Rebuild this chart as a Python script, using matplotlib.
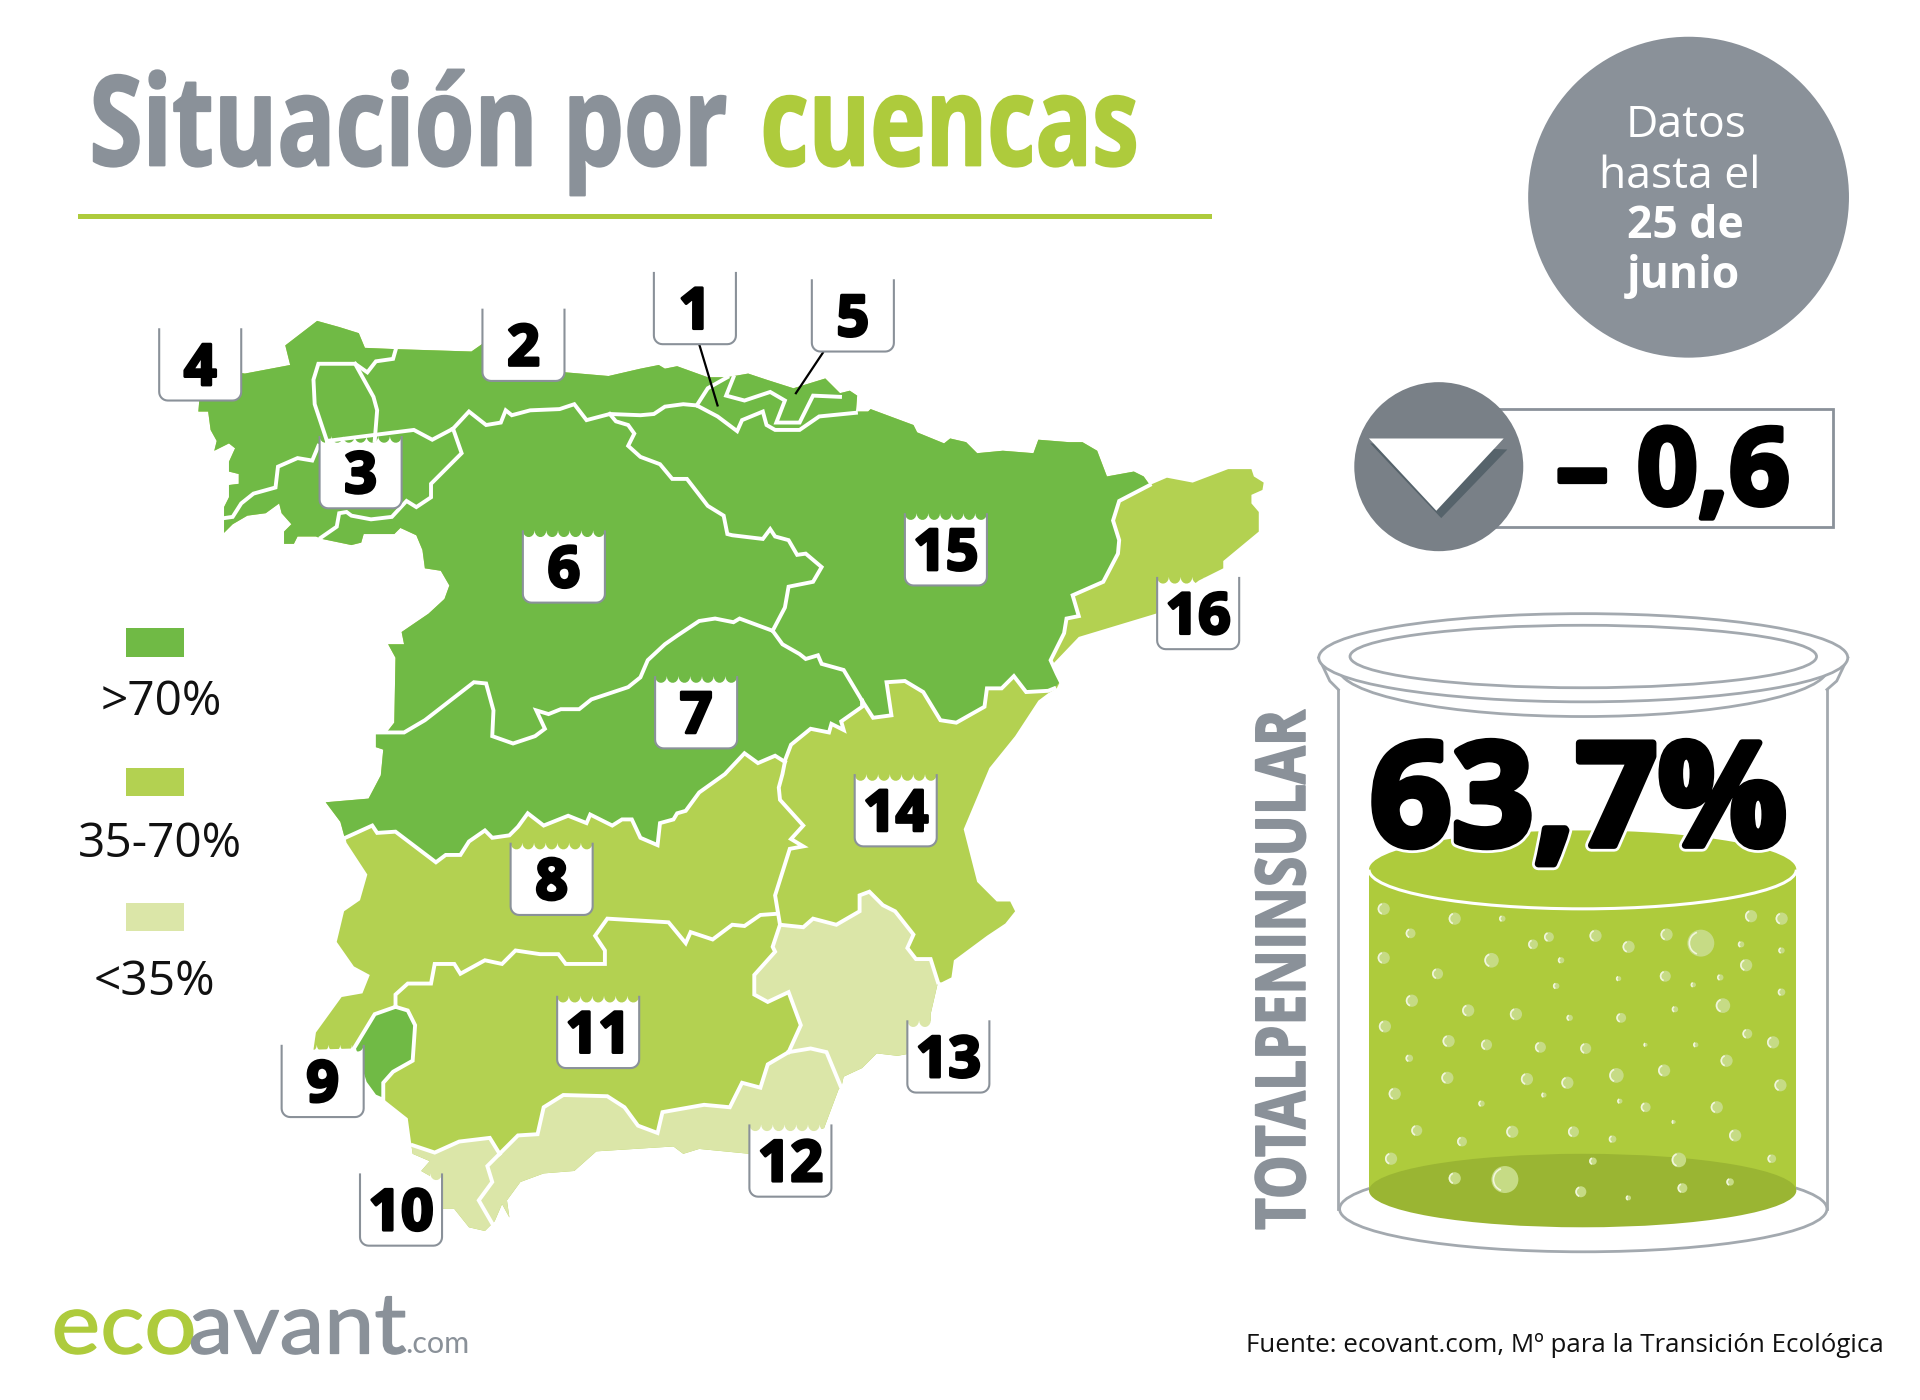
import numpy as np
import matplotlib
matplotlib.use('Agg')
import matplotlib.pyplot as plt
import matplotlib.patheffects as pe
from matplotlib import font_manager
from matplotlib.patches import Polygon, Circle, Ellipse, Arc, Rectangle
from matplotlib.text import Text
from matplotlib.transforms import Affine2D

# colours
GREEN_HIGH = '#70BA45'
GREEN_MID = '#B3D151'
GREEN_LOW = '#DBE6A8'
LIME = '#AECB3C'
GREY = '#8A9199'
DARK_GREY = '#798087'

# legend
legendLabels = ['>70%', '35-70%', '<35%']
legendColors = [GREEN_HIGH, GREEN_MID, GREEN_LOW]
legendBoxY = [513, 627, 737]
legendTextX = [132, 131, 126]
legendTextY = [573, 689, 802]

# numbered basin labels: number, left, top
boxNumbers = ['1', '2', '3', '4', '5', '6', '7', '8', '9', '10', '11', '12', '13', '14', '15', '16']
boxLeft = [534, 394, 261, 130, 663, 427, 535, 417, 230, 294, 455, 612, 741, 698, 739, 945]
boxTop = [222, 252, 356, 268, 228, 433, 552, 688, 853, 958, 813, 918, 833, 632, 419, 471]

# coast, clockwise from the Tajo mouth to the Guadiana mouth
coastNorth = [(282, 684), (281, 682), (278, 671), (266, 655), (301, 652), (311, 633), (313, 612), (307, 610),
              (307, 598), (315, 599), (322, 590), (323, 537), (317, 526), (330, 526), (328, 516), (350, 501),
              (363, 489), (367, 478), (360, 466), (347, 464), (345, 449), (340, 437), (327, 431), (322, 436),
              (297, 436), (295, 443), (287, 445), (263, 440), (258, 438), (243, 438), (240, 444), (232, 444),
              (232, 434), (238, 428), (230, 419), (228, 411), (217, 419), (202, 421), (190, 428), (183, 435),
              (183, 414), (187, 406), (187, 396), (195, 395), (195, 387), (187, 385), (187, 377), (192, 366),
              (187, 362), (175, 368), (177, 360), (172, 351), (170, 336), (162, 336), (165, 300), (200, 305),
              (237, 298), (233, 282), (259, 262), (277, 267), (293, 272), (298, 284), (322, 285), (385, 287),
              (395, 280), (462, 304), (497, 307), (523, 301), (538, 298), (543, 301), (553, 299), (578, 308),
              (594, 308), (611, 305), (626, 310), (648, 317), (674, 309), (686, 321), (694, 319), (700, 323),
              (699, 336), (709, 336), (711, 334), (746, 347), (749, 353), (771, 362), (776, 358), (789, 361),
              (798, 370), (819, 368), (844, 370), (848, 359), (873, 361), (884, 361), (896, 368), (904, 389),
              (926, 385), (934, 389), (939, 396)]
coastCatalonia = [(953, 390), (974, 394), (1003, 383), (1022, 383), (1024, 389), (1032, 394), (1031, 400),
                  (1022, 404), (1022, 411), (1028, 418), (1028, 434), (999, 458), (999, 464), (979, 474),
                  (944, 501), (881, 520), (859, 543), (866, 556)]
coastLevante = [(863, 562), (856, 566), (848, 572), (829, 601), (808, 627), (787, 677), (798, 720), (814, 736),
                (825, 736), (829, 744), (821, 754), (806, 764), (779, 784), (777, 798), (769, 802), (766, 802)]
coastSegura = [(760, 828), (760, 857), (733, 862), (716, 860), (704, 872), (689, 879), (687, 888)]
coastSouth = [(685, 889), (673, 921), (612, 942), (571, 938), (558, 942), (550, 936), (487, 940), (469, 956),
              (444, 958), (425, 965), (414, 980), (416, 994), (410, 983), (404, 997), (396, 1005), (383, 1002),
              (371, 987), (362, 987), (351, 960), (344, 956), (351, 948), (337, 942), (336, 935)]
coastAtlantic = [(333, 913), (314, 898), (306, 895), (298, 884), (289, 856), (256, 857), (258, 843), (279, 814),
                 (296, 811), (302, 796), (289, 789), (275, 769), (281, 744), (294, 735), (300, 714), (283, 688)]

# borders between basins
ebroCatalonia = [(939, 396), (914, 409), (909, 425), (914, 441), (913, 452), (901, 475), (876, 486), (881, 503),
                 (871, 505), (869, 517), (858, 539), (863, 550), (866, 556)]
ebroJucar = [(861, 562), (856, 564), (838, 565), (828, 552), (818, 562), (806, 562), (804, 577), (781, 590),
             (768, 588), (754, 565), (739, 556), (724, 557), (728, 584), (713, 586), (704, 572)]
tajoJucar = [(704, 572), (704, 577), (687, 589), (689, 596), (679, 591), (677, 598), (662, 595), (646, 608),
             (641, 621)]
tajoGuadiana = [(282, 684), (304, 674), (308, 680), (323, 679), (356, 704), (364, 698), (376, 698), (383, 687),
                (396, 678), (402, 684), (416, 682), (423, 675), (431, 664), (444, 674), (464, 666), (479, 672),
                (482, 665), (500, 674), (508, 669), (516, 669), (523, 684), (537, 690), (539, 672), (550, 669),
                (553, 664), (560, 662), (571, 647), (592, 632), (608, 615), (619, 623), (633, 617), (641, 622)]
guadianaJucar = [(641, 622), (639, 632), (636, 643), (637, 653), (656, 674), (646, 685), (656, 691), (645, 693),
                 (633, 731), (637, 755)]
jucarSegura = [(637, 755), (656, 757), (664, 750), (683, 755), (702, 744), (702, 731), (710, 728), (721, 739),
               (731, 744), (746, 763), (741, 774), (748, 783), (760, 783), (766, 802)]
seguraGuadalquivir = [(637, 755), (631, 773), (633, 777), (616, 796), (616, 812), (627, 818), (644, 810),
                      (654, 837), (644, 859)]
seguraSur = [(644, 859), (662, 856), (675, 859), (687, 888)]
guadalquivirSur = [(644, 859), (627, 869), (621, 888), (606, 884), (596, 904), (575, 902), (541, 908), (537, 925),
                   (521, 919), (510, 904), (496, 895), (460, 894), (444, 904), (439, 926), (423, 927), (408, 942)]
surGuadalete = [(408, 942), (398, 952), (402, 965), (391, 980), (402, 999)]
guadaleteGuadalquivir = [(408, 942), (400, 929), (375, 932), (355, 941), (337, 935)]
guadianaGuadalquivir = [(635, 746), (621, 747), (608, 756), (598, 755), (582, 767), (564, 761), (560, 770),
                        (546, 753), (496, 750), (486, 764), (494, 776), (494, 787), (462, 787), (456, 779),
                        (441, 779), (421, 776), (410, 787), (396, 784), (376, 795), (371, 787), (355, 787),
                        (352, 803), (333, 803), (323, 812), (323, 822)]
tintoOdiel = [(323, 822), (306, 828), (289, 856), (298, 884), (306, 895), (313, 898), (313, 884), (321, 875),
              (337, 866), (339, 837), (333, 825), (323, 822)]
tajoDuero = [(631, 515), (604, 505), (599, 508), (584, 505), (571, 507), (553, 519), (543, 526), (529, 539),
             (523, 553), (513, 561), (483, 571), (473, 579), (458, 579), (448, 583), (438, 580), (445, 595),
             (437, 601), (419, 607), (402, 601), (403, 580), (397, 558), (387, 557), (347, 588), (330, 598),
             (307, 598)]
tajoEbro = [(631, 515), (639, 526), (653, 534), (658, 538), (668, 535), (671, 542), (689, 547), (704, 572)]
dueroEbro = [(631, 515), (641, 496), (644, 479), (664, 475), (671, 463), (658, 452), (651, 453), (644, 441),
             (633, 438), (629, 432), (623, 440), (598, 437), (594, 436), (591, 421), (578, 413), (561, 391),
             (549, 391), (539, 379), (523, 373), (513, 364), (518, 354), (513, 347), (503, 344), (498, 338)]
cantabricoSouth = [(267, 360), (338, 351), (353, 359), (370, 350), (383, 336), (397, 347), (409, 345), (413, 335),
                   (418, 339), (433, 335), (457, 334), (469, 330), (479, 343), (498, 338), (523, 339), (534, 338),
                   (543, 332), (558, 330), (569, 331), (586, 340), (602, 352), (606, 343), (623, 336), (626, 347),
                   (633, 351), (653, 351), (669, 340), (699, 337)]
asturiasEast = [(569, 331), (578, 317), (594, 308)]
cantabriaWest = [(599, 308), (593, 323), (608, 327), (629, 320), (641, 327), (634, 345), (653, 345), (664, 323),
                 (686, 324)]
galiciaNorth = [(323, 286), (321, 293), (307, 295), (300, 304), (290, 297), (260, 297), (256, 310), (257, 330),
                (267, 360)]
galiciaEast = [(290, 297), (305, 324), (308, 335), (306, 360)]
galiciaSouth = [(260, 364), (255, 376), (243, 374), (227, 381), (225, 398), (207, 403), (197, 411), (190, 422),
                (183, 423)]
minoLimia = [(370, 350), (377, 370), (352, 395), (352, 406), (340, 414), (332, 409), (320, 422), (303, 424),
             (287, 421), (283, 418), (277, 419), (275, 430), (262, 439)]

whiteBorders = [ebroCatalonia, ebroJucar, tajoJucar, tajoGuadiana, guadianaJucar, jucarSegura, seguraGuadalquivir,
                seguraSur, guadalquivirSur, surGuadalete, guadaleteGuadalquivir, guadianaGuadalquivir, tintoOdiel,
                tajoDuero, tajoEbro, dueroEbro, cantabricoSouth, asturiasEast, cantabriaWest, galiciaNorth,
                galiciaEast, galiciaSouth, minoLimia]

# leader lines of basins 1 and 5
leaderX = [(571, 586), (672, 650)]
leaderY = [(281, 331), (288, 321)]

# bubbles in the jar: x, y, radius
bubbleX = [1130, 1188, 1227, 1152, 1265, 1252, 1303, 1330, 1361, 1389, 1430, 1455, 1422, 1455, 1130, 1218, 1174, 1275,
           1426, 1271, 1322, 1360, 1383, 1405, 1153, 1199, 1238, 1282, 1324, 1368, 1407, 1455, 1131, 1183, 1214, 1258,
           1295, 1344, 1385, 1427, 1448, 1151, 1410, 1182, 1247, 1280, 1320, 1359, 1454, 1139, 1210, 1261, 1323, 1344,
           1402, 1157, 1194, 1235, 1285, 1317, 1367, 1417, 1136, 1301, 1371, 1447, 1188, 1229, 1291, 1330, 1374, 1413]
bubbleY = [742, 750, 750, 762, 765, 771, 764, 773, 763, 770, 748, 750, 771, 776, 782, 784, 795, 784,
           788, 805, 799, 797, 804, 798, 817, 825, 828, 831, 831, 824, 821, 810, 838, 850, 853, 855,
           856, 853, 853, 844, 851, 864, 866, 880, 881, 884, 878, 874, 886, 893, 901, 894, 899, 904,
           904, 923, 932, 924, 924, 930, 916, 927, 946, 948, 947, 946, 962, 963, 973, 978, 970, 965]
bubbleR = [5, 5, 2.5, 4, 4, 4, 5, 5, 5, 11, 5, 5, 2.5, 2.5, 5, 6, 4.5, 2.5,
           5, 2.5, 2, 4.5, 2, 2.5, 5, 5, 5, 2.5, 4, 2.5, 6, 3, 5, 5, 4.5, 4.5,
           4.5, 1.5, 2, 4, 5, 3, 5, 5, 5, 5, 6, 5, 5, 5, 2.5, 2, 2, 4,
           5, 4.5, 4, 5, 4.5, 3, 1.5, 5, 5, 3, 6, 3.5, 5, 11, 4.5, 2, 4, 3]


def pickFont(*names):
    installed = {f.name for f in font_manager.fontManager.ttflist}
    for name in names:
        if name in installed:
            return name
    return 'DejaVu Sans'


OPEN = pickFont('Open Sans', 'Noto Sans')
LOGO = pickFont('Lato', 'Open Sans')


# no condensed Open Sans here, so squeeze the glyphs along the reading direction
class Squeeze(pe.AbstractPathEffect):
    def __init__(self, text, stroke=0):
        super().__init__()
        self.text = text
        self.stroke = stroke

    def draw_path(self, renderer, gc, tpath, affine, rgbFace=None):
        gc0 = renderer.new_gc()
        gc0.copy_properties(gc)
        if self.stroke:
            gc0.set_linewidth(self.stroke)
            gc0.set_foreground(rgbFace)
            gc0.set_joinstyle('round')
        renderer.draw_path(gc0, tpath, affine + self.text.squeezeTransform(), rgbFace)
        gc0.restore()


class SqueezedText(Text):
    def __init__(self, *args, squeeze=1.0, stroke=0, **kwargs):
        super().__init__(*args, **kwargs)
        self.squeeze = squeeze
        self.set_path_effects([Squeeze(self, stroke)])

    def squeezeTransform(self):
        x0, y0 = self.get_transform().transform(self.get_position())
        sx, sy = (1, self.squeeze) if self.get_rotation() == 90 else (self.squeeze, 1)
        return Affine2D().translate(-x0, -y0).scale(sx, sy).translate(x0, y0)

    def get_window_extent(self, renderer=None, dpi=None):
        return super().get_window_extent(renderer, dpi).transformed(self.squeezeTransform())


def squeezedText(ax, x, y, s, **kwargs):
    t = SqueezedText(x, y, s, **kwargs)
    t.set_transform(ax.transData)
    t.set_clip_on(False)
    ax.add_artist(t)
    t.set_transform(ax.transData)
    return t


def heavy(width, color='black'):
    return [pe.withStroke(linewidth=width, foreground=color)]


def drawBox(ax, left, top, number):
    width, height, rad = 67, 59, 7
    right, bottom = left + width, top + height
    # scalloped top of the white card
    n = 7
    step = width / n
    xs, ys = [], []
    for i in range(n):
        t = np.linspace(0, np.pi, 10)
        xs += list(left + step * (i + 0.5) - step / 2 * np.cos(t))
        ys += list(top + 5.5 * np.sin(t))
    t = np.linspace(0, np.pi / 2, 8)
    xs += list(right - rad + rad * np.cos(t))
    ys += list(bottom - rad + rad * np.sin(t))
    xs += list(left + rad - rad * np.sin(t))
    ys += list(bottom - rad + rad * np.cos(t))
    ax.fill(xs, ys, color='white', lw=0, zorder=5)
    # grey edge, open at the top
    ex = [left] + list(left + rad - rad * np.cos(t)) + list(right - rad + rad * np.sin(t)) + [right]
    ey = [top] + list(bottom - rad + rad * np.sin(t)) + list(bottom - rad + rad * np.cos(t)) + [top]
    ax.plot(ex, ey, color=GREY, lw=1.5, zorder=6, solid_capstyle='butt')
    ax.text(left + width / 2, top + 34, number, ha='center', va='center', fontsize=41, family=OPEN,
            fontweight='bold', color='black', zorder=7, path_effects=heavy(2.2))


plt.rcParams['font.family'] = [OPEN, 'DejaVu Sans']
fig = plt.figure(figsize=(19.2, 14), dpi=100, facecolor='white')
ax = fig.add_axes([0, 0, 1, 1])
ax.set_xlim(0, 1568)
ax.set_ylim(1143, 0)
ax.axis('off')

# map: whole silhouette first, then the basins of another colour on top
silhouette = coastNorth + coastCatalonia + coastLevante + coastSegura + coastSouth + coastAtlantic
ax.add_patch(Polygon(silhouette, closed=True, fc=GREEN_MID, ec='none', zorder=1))
north = coastNorth + ebroCatalonia + ebroJucar + tajoJucar + tajoGuadiana[::-1]
ax.add_patch(Polygon(north, closed=True, fc=GREEN_HIGH, ec='none', zorder=2))
segura = jucarSegura + coastSegura + seguraSur[::-1] + seguraGuadalquivir[::-1]
ax.add_patch(Polygon(segura, closed=True, fc=GREEN_LOW, ec='none', zorder=2))
south = seguraSur + coastSouth + guadaleteGuadalquivir[::-1] + guadalquivirSur[::-1]
ax.add_patch(Polygon(south, closed=True, fc=GREEN_LOW, ec='none', zorder=2))
ax.add_patch(Polygon(tintoOdiel, closed=True, fc=GREEN_HIGH, ec='none', zorder=2))
for border in whiteBorders:
    bx, by = zip(*border)
    ax.plot(bx, by, color='white', lw=2.8, zorder=3, solid_joinstyle='miter')

for lx, ly in zip(leaderX, leaderY):
    ax.plot(lx, ly, color='black', lw=1.6, zorder=4)
for num, left, top in zip(boxNumbers, boxLeft, boxTop):
    drawBox(ax, left, top, num)

# title
squeezedText(ax, 73, 135, 'Situación por', fontsize=90, family=OPEN, fontweight='bold', color=GREY,
             va='baseline', squeeze=0.772, stroke=1.5, zorder=8)
squeezedText(ax, 621, 135, 'cuencas', fontsize=90, family=OPEN, fontweight='bold', color=LIME,
             va='baseline', squeeze=0.75, stroke=1.5, zorder=8)
ax.add_patch(Rectangle((64, 175), 926, 4, fc=LIME, ec='none'))

# date badge
ax.add_patch(Circle((1379, 161), 131, fc=GREY, ec='none'))
for txt, ty, w, tx in [('Datos', 103, 'normal', 1377), ('hasta el', 144, 'normal', 1372),
                       ('25 de', 185, 'bold', 1376), ('junio', 226, 'bold', 1375)]:
    ax.text(tx, ty, txt, ha='center', va='center', fontsize=32, family=OPEN, fontweight=w, color='white')

# weekly change
ax.add_patch(Rectangle((1205, 334), 292, 96, fc='white', ec=GREY, lw=2))
ax.add_patch(Circle((1175, 381), 69, fc=DARK_GREY, ec='none', zorder=2))
ax.add_patch(Polygon([(1119, 362), (1231, 367), (1177, 423)], closed=True, fc='#56636B', ec='none', zorder=3))
ax.add_patch(Polygon([(1118, 358), (1228, 358), (1173, 417)], closed=True, fc='white', ec='none', zorder=4))
ax.text(1366, 389, '– 0,6', ha='center', va='center', fontsize=77, family=OPEN, fontweight='bold',
        color='black', zorder=5, path_effects=heavy(3.5))

# jar
JAR_LINE = '#A3A9AF'
ax.add_patch(Ellipse((1293, 987), 398, 70, fc='white', ec=JAR_LINE, lw=2, zorder=1))
ax.plot([1093, 1093], [563, 987], color=JAR_LINE, lw=2, zorder=1)
ax.plot([1492, 1492], [563, 987], color=JAR_LINE, lw=2, zorder=1)
ax.add_patch(Arc((1293, 545), 400, 80, theta1=0, theta2=180, ec=JAR_LINE, lw=2, zorder=2))
ax.plot([1077, 1086, 1093], [537, 556, 563], color=JAR_LINE, lw=2, zorder=2)
ax.plot([1509, 1500, 1492], [537, 556, 563], color=JAR_LINE, lw=2, zorder=2)
ax.add_patch(Ellipse((1293, 537), 432, 72, fc='white', ec=JAR_LINE, lw=2, zorder=2))
ax.add_patch(Ellipse((1293, 536), 381, 51, fc='white', ec=JAR_LINE, lw=2, zorder=2))

ax.add_patch(Rectangle((1118, 710), 349, 262, fc=LIME, ec='none', zorder=3))
ax.add_patch(Ellipse((1292.5, 710), 349, 64, fc=LIME, ec='none', zorder=3))
ax.add_patch(Ellipse((1292.5, 972), 349, 60, fc='#9AB533', ec='none', zorder=3))
ax.add_patch(Arc((1292.5, 710), 349, 64, theta1=0, theta2=180, ec='white', lw=2.2, zorder=4))
for bx, by, br in zip(bubbleX, bubbleY, bubbleR):
    ax.add_patch(Circle((bx, by), br, fc='#C6DB85', ec='none', zorder=4))
    ax.add_patch(Arc((bx, by), 1.7 * br, 1.7 * br, theta1=110, theta2=250, ec='#F1F6DC', lw=1.2, zorder=4))

ax.text(1289, 660, '63,7%', ha='center', va='center', fontsize=103.5, family=OPEN, fontweight='bold',
        color='black', zorder=6, path_effects=[pe.withStroke(linewidth=9, foreground='white'),
                                               pe.withStroke(linewidth=5, foreground='black')])
squeezedText(ax, 1051, 792, 'TOTALPENINSULAR', rotation=90, ha='center', va='center', fontsize=49.5, family=OPEN,
             fontweight='bold', color=GREY, squeeze=0.80, stroke=1.2, zorder=6)

# legend
for label, color, by, tx, ty in zip(legendLabels, legendColors, legendBoxY, legendTextX, legendTextY):
    ax.add_patch(Rectangle((103, by), 47, 23, fc=color, ec='none'))
    ax.text(tx, ty, label, ha='center', va='center', fontsize=34.5, family=OPEN, color='#111111')

# footer
squeezedText(ax, 42, 1105, 'eco', fontsize=61, family=LOGO, color=LIME, va='baseline', squeeze=1.09, stroke=1)
squeezedText(ax, 154, 1105, 'avant', fontsize=61, family=LOGO, color=GREY, va='baseline', squeeze=1.06, stroke=1)
ax.text(331, 1105, '.com', fontsize=22, family=LOGO, color=GREY, va='baseline')
ax.text(1538, 1104, 'Fuente: ecovant.com, Mº para la Transición Ecológica', ha='right', va='baseline',
        fontsize=18.6, family=OPEN, color='#111111')

fig.savefig('out.png', dpi=100, facecolor='white')
